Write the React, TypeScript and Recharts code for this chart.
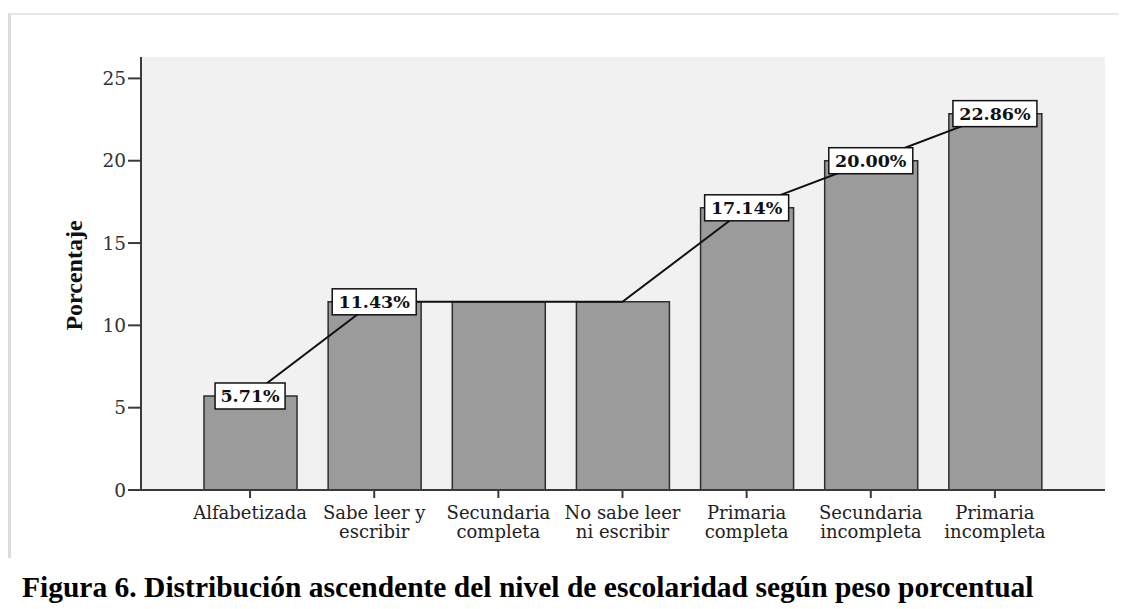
import React from 'react';
import {
  ComposedChart,
  Bar,
  Line,
  XAxis,
  YAxis,
  CartesianGrid,
  LabelList,
} from 'recharts';

const categories = [
  'Alfabetizada',
  'Sabe leer y|escribir',
  'Secundaria|completa',
  'No sabe leer|ni escribir',
  'Primaria|completa',
  'Secundaria|incompleta',
  'Primaria|incompleta',
];
const percentages = [5.71, 11.43, 11.43, 11.43, 17.14, 20.0, 22.86];
const labelShown = [true, true, false, false, true, true, true];
const yTicks = [0, 5, 10, 15, 20, 25];

const chartData = categories.map((name, i) => ({
  name,
  value: percentages[i],
  showLabel: labelShown[i],
}));

const SERIF = '"DejaVu Serif", serif';
const AXIS_COLOR = '#3a3a3a';

const CategoryTick = (props: any) => {
  const { x, y, payload } = props;
  const lines = String(payload.value).split('|');
  return (
    <text x={x} y={y} textAnchor="middle" fontFamily={SERIF} fontSize={18} fill="#222">
      {lines.map((line, i) => (
        <tspan key={i} x={x} dy={i === 0 ? 19 : 19}>
          {line}
        </tspan>
      ))}
    </text>
  );
};

// white boxed percentage sitting on the top of the bar
const PercentBox = (props: any) => {
  const { x, y, value, index } = props;
  if (!chartData[index]?.showLabel) return null;
  const text = `${Number(value).toFixed(2)}%`;
  const w = text.length * 14;
  const h = 26;
  return (
    <g>
      <rect x={x - w / 2} y={y - h / 2} width={w} height={h} fill="#fff" stroke="#111" strokeWidth={1.5} />
      <text
        x={x}
        y={y + 6.5}
        textAnchor="middle"
        fontFamily={SERIF}
        fontWeight="bold"
        fontSize={17.5}
        fill="#111"
      >
        {text}
      </text>
    </g>
  );
};

const App: React.FC = () => {
  return (
    <div style={{ position: 'relative', margin: '-8px 0 0 -8px', width: 1127, height: 609, background: '#fff' }}>
      <div
        style={{
          position: 'absolute',
          left: 8,
          top: 13,
          width: 1119,
          height: 545,
          borderTop: '2px solid #e8e8e8',
          borderLeft: '3px solid #dcdcdc',
          boxSizing: 'border-box',
        }}
      />
      <div style={{ position: 'absolute', left: 0, top: 0 }}>
        <ComposedChart
          width={1127}
          height={560}
          data={chartData}
          margin={{ top: 57, right: 22, left: 0, bottom: 10 }}
        >
          <CartesianGrid stroke="none" fill="#f1f1f1" />
          <XAxis
            dataKey="name"
            padding={{ left: 47, right: 48 }}
            interval={0}
            height={60}
            tick={<CategoryTick />}
            tickSize={8}
            tickLine={{ stroke: AXIS_COLOR, strokeWidth: 2 }}
            axisLine={{ stroke: AXIS_COLOR, strokeWidth: 2 }}
          />
          <XAxis xAxisId="top" orientation="top" dataKey="name" height={0} tick={false} tickLine={false} axisLine={{ stroke: '#666', strokeWidth: 2 }} />
          <YAxis
            domain={[0, 26.3]}
            ticks={yTicks}
            width={141}
            tickSize={13}
            tickMargin={2}
            tick={{ fontFamily: SERIF, fontSize: 18.5, fill: '#333' }}
            tickLine={{ stroke: AXIS_COLOR, strokeWidth: 2 }}
            axisLine={{ stroke: AXIS_COLOR, strokeWidth: 2 }}
            label={{
              content: ({ viewBox }: any) => {
                const cy = viewBox.y + viewBox.height / 2 + 2;
                return (
                  <text
                    x={82}
                    y={cy}
                    transform={`rotate(-90, 82, ${cy})`}
                    textAnchor="middle"
                    fontFamily='"Liberation Serif", serif'
                    fontWeight="bold"
                    fontSize={24}
                    fill="#111"
                  >
                    Porcentaje
                  </text>
                );
              },
            }}
          />
          <YAxis yAxisId="right" orientation="right" width={0} tick={false} tickLine={false} axisLine={{ stroke: '#666', strokeWidth: 2 }} />
          <Bar dataKey="value" barSize={93} fill="#9b9b9b" stroke="#2e2e2e" strokeWidth={1.5} isAnimationActive={false} />
          <Line
            type="linear"
            dataKey="value"
            stroke="#111"
            strokeWidth={2}
            dot={false}
            activeDot={false}
            isAnimationActive={false}
          >
            <LabelList dataKey="value" content={<PercentBox />} />
          </Line>
        </ComposedChart>
      </div>
      <div
        style={{
          position: 'absolute',
          left: 22,
          top: 571,
          fontFamily: '"Liberation Serif", serif',
          fontWeight: 'bold',
          fontSize: 29.5,
          lineHeight: '33px',
          color: '#000',
          whiteSpace: 'nowrap',
        }}
      >
        Figura 6. Distribución ascendente del nivel de escolaridad según peso porcentual
      </div>
    </div>
  );
};

export default App;
